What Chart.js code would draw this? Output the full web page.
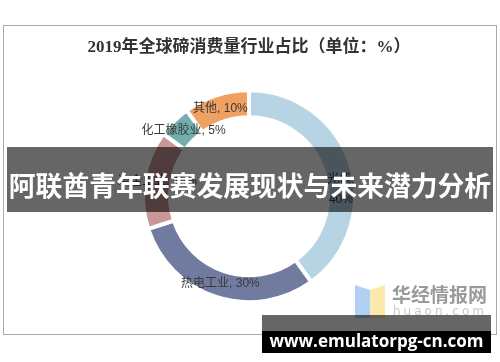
<!DOCTYPE html>
<html>
<head>
<meta charset="utf-8">
<script src="https://cdn.jsdelivr.net/npm/chart.js@4/dist/chart.umd.min.js"></script>
<style>
    html, body { margin: 0; padding: 0; background: #fff; }
    #wrap { position: relative; width: 500px; height: 362px; overflow: hidden; }
    #frame { position: absolute; left: 3px; top: 25px; width: 492px; height: 308px; border: 1px solid #aaa; }
    canvas { position: absolute; left: 0; top: 0; }
    #banner {
        position: absolute; left: 7px; top: 147px; width: 486px; height: 65px;
        background: rgba(0, 0, 0, 0.6); color: #fff;
        font: bold 26.8px "Noto Sans CJK SC", sans-serif;
        text-align: center; line-height: 76px; white-space: nowrap; letter-spacing: 0;
    }
    #footTop { position: absolute; left: 262px; top: 315px; width: 229px; height: 16px; background: rgba(0,0,0,0.6); }
    #footBar {
        position: absolute; left: 262px; top: 331px; width: 229px; height: 22px; background: #000;
        color: #fff; font: bold 17px "Open Sans", sans-serif; text-align: center; line-height: 20px; white-space: nowrap;
    }
    #mark { position: absolute; left: 350px; top: 280px; }
</style>
</head>
<body>
<div id="wrap">
    <div id="frame"></div>
    <canvas id="chart" width="500" height="362"></canvas>
    <svg id="mark" width="140" height="45">
        <polygon points="5,5 20,10 20,38 5,38" fill="#a9cbf2" opacity="0.9"/>
        <polygon points="20,10 35,5 35,38 20,38" fill="#fbe8a2" opacity="0.9"/>
        <text x="42" y="22" font-family="Noto Sans CJK SC" font-weight="bold" font-size="19" fill="#9a9a9a">华经情报网</text>
        <text x="43" y="35" font-family="DejaVu Sans" font-size="12" fill="#c8c8c8" letter-spacing="3">huaon.com</text>
    </svg>
    <div id="banner">阿联酋青年联赛发展现状与未来潜力分析</div>
    <div id="footTop"></div>
    <div id="footBar">www.emulatorpg-cn.com</div>
</div>
<script>
const titleText = '2019年全球碲消费量行业占比（单位：%）';
const categories = ['光伏', '热电工业', '冶金工业', '化工橡胶业', '其他'];
const shares = [40, 30, 15, 5, 10];
const colors = ['#b6d4e4', '#717ba0', '#c99797', '#73aeae', '#f0a060'];

// draws "name, value%" labels on the ring
const ringLabels = {
    id: 'ringLabels',
    afterDatasetsDraw(chart) {
        const ctx = chart.ctx;
        const arcs = chart.getDatasetMeta(0).data;
        ctx.save();
        ctx.font = '12px "Liberation Sans", "Noto Sans CJK SC", sans-serif';
        ctx.fillStyle = '#3a3a3a';
        ctx.textAlign = 'center';
        ctx.textBaseline = 'middle';
        arcs.forEach((arc, i) => {
            const mid = (arc.startAngle + arc.endAngle) / 2;
            const r = (arc.innerRadius + arc.outerRadius) / 2;
            const x = arc.x + Math.cos(mid) * r;
            const y = arc.y + Math.sin(mid) * r;
            if (i === 0) {
                // the big slice's label sits lower, split on two lines
                ctx.fillText(categories[i] + ',', x + 4, y + 12);
                ctx.fillText(shares[i] + '%', x + 4, y + 32);
            } else {
                ctx.fillText(categories[i] + ', ' + shares[i] + '%', x, y);
            }
        });
        ctx.restore();
    }
};

new Chart(document.getElementById('chart'), {
    type: 'doughnut',
    data: {
        labels: categories,
        datasets: [{
            data: shares,
            backgroundColor: colors,
            borderColor: '#fff',
            borderWidth: 4
        }]
    },
    options: {
        responsive: false,
        animation: false,
        radius: 106,
        cutout: '74.5%',
        layout: { padding: { left: 0, right: 2, top: 0, bottom: 27 } },
        plugins: {
            legend: { display: false },
            tooltip: { enabled: false },
            title: {
                display: true,
                text: titleText,
                color: '#333',
                font: { size: 17, weight: 'bold', family: '"Liberation Serif", "Noto Sans CJK SC", serif' },
                padding: { top: 37, bottom: 0 }
            }
        }
    },
    plugins: [ringLabels]
});
</script>
</body>
</html>
